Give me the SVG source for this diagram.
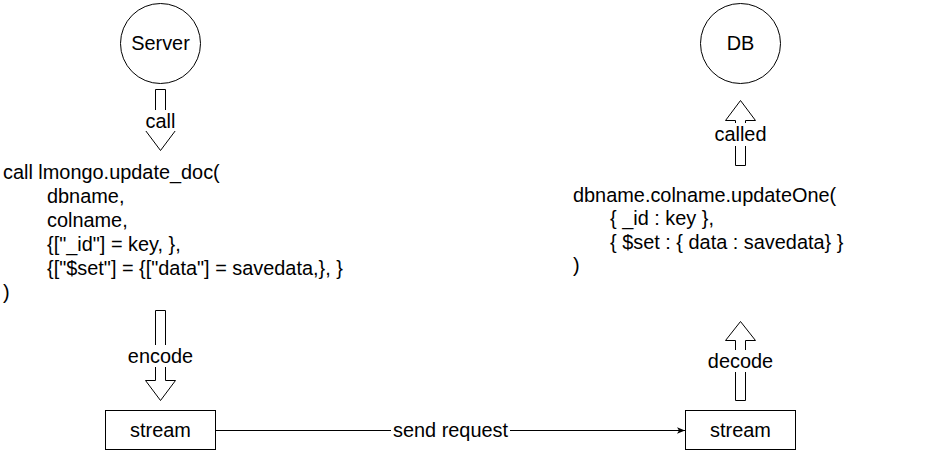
<svg xmlns="http://www.w3.org/2000/svg" width="951" height="451" viewBox="0 0 951 451">
<style>
text{font-family:"Liberation Sans",Arial,sans-serif;font-size:19.9px;fill:#000}
.c{text-anchor:middle}
.shape{fill:#fff;stroke:#000;stroke-width:1}
.flex{fill:#fff;stroke:#000;stroke-width:1;stroke-linejoin:miter}
.lbg{fill:#fff}
</style>
<defs>
<marker id="arr" viewBox="0 0 10 10" refX="10" refY="5" markerWidth="8" markerHeight="8" markerUnits="userSpaceOnUse" orient="auto">
<path d="M0,1 L10,5 L0,9 L2.5,5 Z" fill="#000"/>
</marker>
</defs>
<rect width="951" height="451" fill="#fff"/>
<g id="connectors">
<g id="call-arrow">
<path class="flex" d="M155.5,89.5 L165.5,89.5 L165.5,130.5 L175.5,130.5 L160.5,150.5 L145.5,130.5 L155.5,130.5 Z"/>
<rect class="lbg" x="142" y="110" width="37" height="21"/>
<text class="c" x="160.5" y="128">call</text>
</g>
<g id="called-arrow">
<path class="flex" d="M735.5,165.5 L745.5,165.5 L745.5,120.5 L755.5,120.5 L740.5,100.5 L725.5,120.5 L735.5,120.5 Z"/>
<rect class="lbg" x="712" y="123" width="58" height="23"/>
<text class="c" x="740.5" y="141">called</text>
</g>
<g id="encode-arrow">
<path class="flex" d="M155.5,310.5 L165.5,310.5 L165.5,380.5 L175.5,380.5 L160.5,400.5 L145.5,380.5 L155.5,380.5 Z"/>
<rect class="lbg" x="127" y="345" width="67" height="22"/>
<text class="c" x="160.5" y="363">encode</text>
</g>
<g id="decode-arrow">
<path class="flex" d="M735.5,400.5 L745.5,400.5 L745.5,340.5 L755.5,340.5 L740.5,321.5 L725.5,340.5 L735.5,340.5 Z"/>
<rect class="lbg" x="706" y="350" width="69" height="22"/>
<text class="c" x="740.5" y="368">decode</text>
</g>
<g id="send-request">
<line x1="215" y1="430.5" x2="685" y2="430.5" stroke="#000" stroke-width="1" marker-end="url(#arr)"/>
<rect class="lbg" x="391" y="419" width="119" height="22"/>
<text class="c" x="450.5" y="437">send request</text>
</g>
</g>
<g id="server">
<circle class="shape" cx="160.5" cy="43.5" r="40"/>
<text class="c" x="160.5" y="49.5">Server</text>
</g>
<g id="db">
<circle class="shape" cx="740.5" cy="43.5" r="40"/>
<text class="c" x="740.5" y="49.5">DB</text>
</g>
<g id="lua-call">
<text x="3" y="179">call lmongo.update_doc(</text>
<text x="47" y="203">dbname,</text>
<text x="47" y="227">colname,</text>
<text x="47" y="251">{["_id"] = key, },</text>
<text x="47" y="275">{["$set"] = {["data"] = savedata,}, }</text>
<text x="3" y="299">)</text>
</g>
<g id="mongo-call">
<text x="573" y="201.5">dbname.colname.updateOne(</text>
<text x="610" y="225">{ _id : key },</text>
<text x="610" y="248.5">{ $set : { data : savedata} }</text>
<text x="573" y="272">)</text>
</g>
<g id="stream-left">
<rect class="shape" x="105.5" y="410.5" width="110" height="39"/>
<text class="c" x="160.5" y="437">stream</text>
</g>
<g id="stream-right">
<rect class="shape" x="685.5" y="410.5" width="110" height="39"/>
<text class="c" x="740.5" y="437">stream</text>
</g>
</svg>
